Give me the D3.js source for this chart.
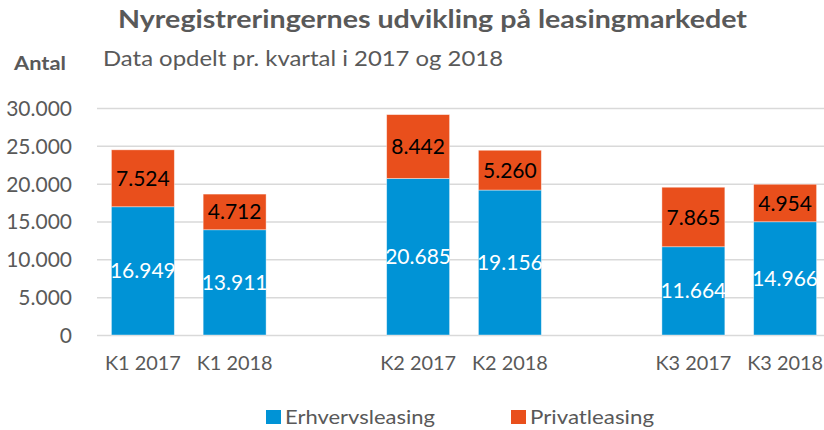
<!DOCTYPE html>
<html>
<head>
<meta charset="utf-8">
<script src="https://cdn.jsdelivr.net/npm/d3@7"></script>
<style>
  body { margin: 0; background: #fff; }
  svg text { font-family: Lato, "Open Sans", sans-serif; }
</style>
</head>
<body>
<div id="container"></div>
<script>
/* CONSTANTS AND GLOBALS */
const width = 824,
  height = 430,
  margin = { left: 97, top: 108, bottom: 95, right: -7 };

/* DATA */
const categories = ["K1 2017", "K1 2018", "K2 2017", "K2 2018", "K3 2017", "K3 2018"];
// empty slots between quarters
const slots = ["K1 2017", "K1 2018", "gap1", "K2 2017", "K2 2018", "gap2", "K3 2017", "K3 2018"];
const erhverv = [16949, 13911, 20685, 19156, 11664, 14966];
const privat = [7524, 4712, 8442, 5260, 7865, 4954];
const seriesNames = ["Erhvervsleasing", "Privatleasing"];
const yTicks = [0, 5000, 10000, 15000, 20000, 25000, 30000];

const colors = { Erhvervsleasing: "#0093D6", Privatleasing: "#E94F1C" };
const grey = "#595959";

const data = categories.map((c, i) => ({ cat: c, Erhvervsleasing: erhverv[i], Privatleasing: privat[i] }));
const fmt = d3.format(",d");
const fmtDk = v => fmt(v).replace(/,/g, ".");

// SCALES
const xScale = d3.scaleBand()
  .domain(slots)
  .range([margin.left, width - margin.right])
  .paddingInner(0.314)
  .paddingOuter(0.157);

const yScale = d3.scaleLinear()
  .domain([0, 30000])
  .range([height - margin.bottom, margin.top]);

// CREATE SVG ELEMENT
const svg = d3.select("#container")
  .append("svg")
  .attr("width", width)
  .attr("height", height);

// TITLES
svg.append("text")
  .attr("x", 118).attr("y", 28)
  .attr("fill", grey)
  .attr("font-weight", "bold")
  .attr("font-size", 24)
  .attr("textLength", 629)
  .attr("lengthAdjust", "spacingAndGlyphs")
  .text("Nyregistreringernes udvikling på leasingmarkedet");

svg.append("text")
  .attr("x", 103).attr("y", 66)
  .attr("fill", grey)
  .attr("font-size", 22)
  .attr("textLength", 400)
  .attr("lengthAdjust", "spacingAndGlyphs")
  .text("Data opdelt pr. kvartal i 2017 og 2018");

svg.append("text")
  .attr("x", 14).attr("y", 70)
  .attr("fill", grey)
  .attr("font-weight", "bold")
  .attr("font-size", 18)
  .attr("textLength", 52)
  .attr("lengthAdjust", "spacingAndGlyphs")
  .text("Antal");

// GRID + Y AXIS
const yAxis = d3.axisLeft(yScale)
  .tickValues(yTicks)
  .tickSize(-(width - margin.left + 10))
  .tickPadding(25)
  .tickFormat(fmtDk);

const gy = svg.append("g")
  .attr("transform", `translate(${margin.left},0)`)
  .call(yAxis);
gy.select(".domain").remove();
gy.selectAll(".tick line").attr("stroke", "#D9D9D9").attr("stroke-width", 1.5);
gy.selectAll(".tick text")
  .attr("fill", grey)
  .attr("font-size", 21)
  .attr("dy", "0.35em");

// STACK
const stack = d3.stack().keys(seriesNames)(data);

const layers = svg.selectAll(".layer")
  .data(stack)
  .join("g")
  .attr("class", "layer")
  .attr("fill", d => colors[d.key]);

layers.selectAll("rect")
  .data(d => d)
  .join("rect")
  .attr("x", d => xScale(d.data.cat))
  .attr("y", d => yScale(d[1]))
  .attr("width", xScale.bandwidth())
  .attr("height", d => yScale(d[0]) - yScale(d[1]))
  .attr("stroke", "#ffffff")
  .attr("stroke-opacity", 0.5)
  .attr("stroke-width", 0.8);

// DATA LABELS
stack.forEach(layer => {
  svg.append("g")
    .selectAll("text")
    .data(layer)
    .join("text")
    .attr("x", d => xScale(d.data.cat) + xScale.bandwidth() / 2)
    .attr("y", d => (yScale(d[0]) + yScale(d[1])) / 2)
    .attr("dy", "0.36em")
    .attr("text-anchor", "middle")
    .attr("font-size", 21)
    .attr("fill", layer.key === "Erhvervsleasing" ? "#ffffff" : "#000000")
    .text(d => fmtDk(d.data[layer.key]));
});

// X AXIS LABELS
const xAxis = d3.axisBottom(xScale)
  .tickValues(categories)
  .tickSize(0)
  .tickPadding(22);

const gx = svg.append("g")
  .attr("transform", `translate(0,${height - margin.bottom})`)
  .call(xAxis);
gx.select(".domain").remove();
gx.selectAll(".tick text")
  .attr("fill", grey)
  .attr("font-size", 19)
  .attr("textLength", 76)
  .attr("lengthAdjust", "spacingAndGlyphs");

// LEGEND
const legend = svg.append("g")
  .selectAll("g")
  .data(seriesNames)
  .join("g")
  .attr("transform", (d, i) => `translate(${[266, 511][i]},410)`);

legend.append("rect")
  .attr("width", 15).attr("height", 14)
  .attr("fill", d => colors[d]);

legend.append("text")
  .attr("x", 19).attr("y", 14)
  .attr("fill", grey)
  .attr("font-size", 20)
  .attr("textLength", (d, i) => [150, 124][i])
  .attr("lengthAdjust", "spacingAndGlyphs")
  .text(d => d);
</script>
</body>
</html>
